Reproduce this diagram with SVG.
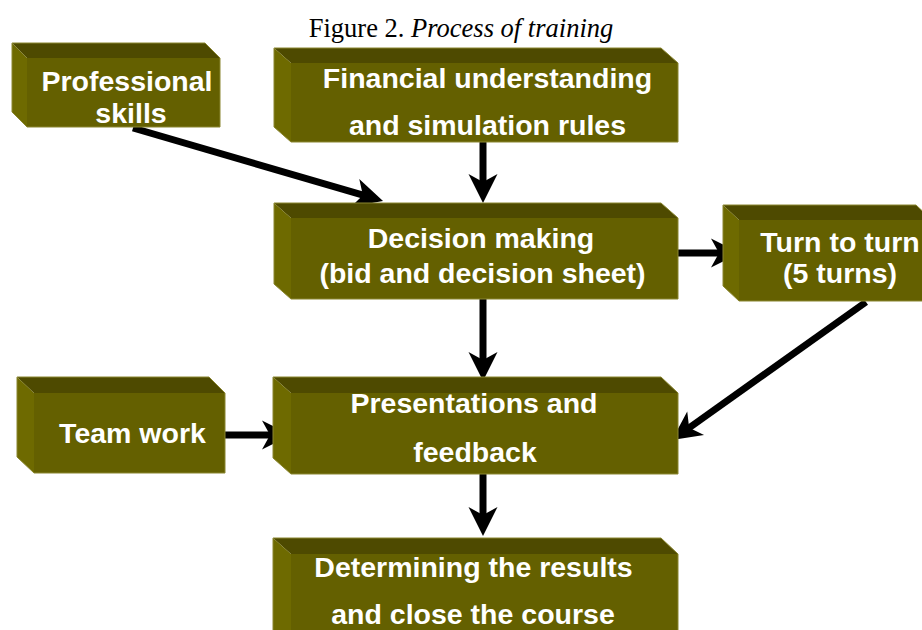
<svg xmlns="http://www.w3.org/2000/svg" width="922" height="630" viewBox="0 0 922 630">
  <style>
    .top { fill: #4e4a00; }
    .side { fill: #6e6a00; }
    .front { fill: #646000; }
    .edge { fill: none; stroke: #8a8630; stroke-width: 1; }
    .lbl { font-family: "Liberation Sans", Arial, sans-serif; font-weight: bold; font-size: 28.5px; fill: #ffffff; text-anchor: middle; }
    .title { font-family: "Liberation Serif", "Times New Roman", serif; font-size: 26.5px; fill: #000000; text-anchor: middle; }
    .conn line { stroke: #000000; stroke-width: 7; marker-end: url(#head); }
  </style>
  <defs>
    <marker id="head" markerUnits="userSpaceOnUse" markerWidth="32" markerHeight="32" viewBox="0 -16 32 32" refX="10" refY="0" orient="auto" overflow="visible">
      <path d="M29,0 L0,-14.5 L8,0 L0,14.5 Z" fill="#000000"/>
    </marker>
  </defs>

  <rect width="922" height="630" fill="#ffffff"/>

  <text class="title" x="461" y="37">Figure 2. <tspan font-style="italic">Process of training</tspan></text>

  <!-- connectors -->
  <g id="connectors" class="conn">
    <line x1="133" y1="128" x2="364.8" y2="195.7"/>
    <line x1="483" y1="142" x2="483" y2="184"/>
    <line x1="678" y1="253" x2="721" y2="253"/>
    <line x1="866" y1="302" x2="687.5" y2="429"/>
    <line x1="483" y1="299" x2="483" y2="362"/>
    <line x1="225" y1="435" x2="272" y2="435"/>
    <line x1="483" y1="474" x2="483" y2="517"/>
  </g>

  <!-- bevelled boxes: top face, left face, front face, outline -->
  <g id="professional-skills">
    <polygon class="top" points="12,43 205,43 220,58 27,58"/>
    <polygon class="side" points="12,43 27,58 27,127 12,112"/>
    <rect class="front" x="27" y="58" width="193" height="69"/>
    <path class="edge" d="M12,43 H205 L220,58 V127 H27 L12,112 Z"/>
    <text class="lbl" x="127" y="91">Professional</text>
    <text class="lbl" x="131" y="123">skills</text>
  </g>

  <g id="financial-understanding">
    <polygon class="top" points="274,48 661,48 678,63 291,63"/>
    <polygon class="side" points="274,48 291,63 291,142 274,127"/>
    <rect class="front" x="291" y="63" width="387" height="79"/>
    <path class="edge" d="M274,48 H661 L678,63 V142 H291 L274,127 Z"/>
    <text class="lbl" x="487.5" y="88">Financial understanding</text>
    <text class="lbl" x="487.5" y="135">and simulation rules</text>
  </g>

  <g id="decision-making">
    <polygon class="top" points="274,203 661,203 678,218 291,218"/>
    <polygon class="side" points="274,203 291,218 291,299 274,284"/>
    <rect class="front" x="291" y="218" width="387" height="81"/>
    <path class="edge" d="M274,203 H661 L678,218 V299 H291 L274,284 Z"/>
    <text class="lbl" x="481" y="248">Decision making</text>
    <text class="lbl" x="482.5" y="283">(bid and decision sheet)</text>
  </g>

  <g id="turn-to-turn">
    <polygon class="top" points="723,205 916,205 932,220 739,220"/>
    <polygon class="side" points="723,205 739,220 739,301 723,286"/>
    <rect class="front" x="739" y="220" width="193" height="81"/>
    <path class="edge" d="M723,205 H916 L932,220 V301 H739 L723,286 Z"/>
    <text class="lbl" x="840" y="252">Turn to turn</text>
    <text class="lbl" x="840" y="283">(5 turns)</text>
  </g>

  <g id="team-work">
    <polygon class="top" points="17,377 209,377 225,393 34,393"/>
    <polygon class="side" points="17,377 34,393 34,473 17,457"/>
    <rect class="front" x="34" y="393" width="191" height="80"/>
    <path class="edge" d="M17,377 H209 L225,393 V473 H34 L17,457 Z"/>
    <text class="lbl" x="132.5" y="443">Team work</text>
  </g>

  <g id="presentations-feedback">
    <polygon class="top" points="273,377 661,377 678,393 291,393"/>
    <polygon class="side" points="273,377 291,393 291,474 273,458"/>
    <rect class="front" x="291" y="393" width="387" height="81"/>
    <path class="edge" d="M273,377 H661 L678,393 V474 H291 L273,458 Z"/>
    <text class="lbl" x="474" y="413">Presentations and</text>
    <text class="lbl" x="475" y="462">feedback</text>
  </g>

  <g id="determining-results">
    <polygon class="top" points="273,538 661,538 678,554 291,554"/>
    <polygon class="side" points="273,538 291,554 291,650 273,634"/>
    <rect class="front" x="291" y="554" width="387" height="96"/>
    <path class="edge" d="M273,538 H661 L678,554 V650 H291 L273,634 Z"/>
    <text class="lbl" x="473.5" y="577">Determining the results</text>
    <text class="lbl" x="473" y="624">and close the course</text>
  </g>
</svg>
